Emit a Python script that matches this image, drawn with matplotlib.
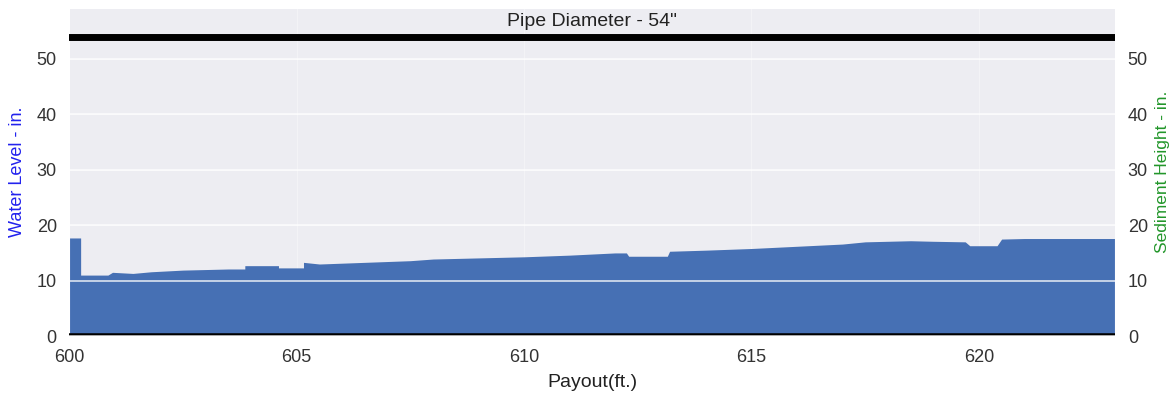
import numpy as np
import matplotlib
matplotlib.use("Agg")
import matplotlib.pyplot as plt
import seaborn as sns

# payout (ft) and water level (in.)
payout = [600.0, 600.25, 600.25, 600.85, 600.95, 601.4, 601.8, 602.5, 603.5,
          603.86, 603.86, 604.6, 604.6, 605.15, 605.15, 605.5, 606.5, 607.5,
          608.0, 609.0, 610.0, 611.0, 612.0, 612.25, 612.3, 613.15, 613.2,
          614.0, 615.0, 616.0, 617.0, 617.5, 618.5, 619.0, 619.7, 619.8,
          620.4, 620.5, 621.0, 623.0]
water = [17.7, 17.7, 11.0, 11.0, 11.5, 11.3, 11.6, 11.9, 12.1,
         12.1, 12.7, 12.7, 12.3, 12.3, 13.3, 13.0, 13.3, 13.6,
         13.9, 14.1, 14.3, 14.6, 15.0, 15.0, 14.4, 14.4, 15.3,
         15.5, 15.8, 16.2, 16.6, 17.0, 17.2, 17.1, 17.0, 16.3,
         16.3, 17.5, 17.6, 17.6]
pipe_diameter = 54
sediment = 0

sns.set_style("darkgrid")
plt.rcParams["font.family"] = ["Liberation Sans", "DejaVu Sans"]

fig = plt.figure(figsize=(11.74, 4.01), dpi=100)
ax = fig.add_axes([0.059, 0.162, 0.891, 0.818])
ax.set_facecolor("#EDEDF2")
ax.grid(True, color="white", lw=0.8, alpha=0.35)

ax.fill_between(payout, 0, water, color="#4670b4", lw=0, zorder=2)
ax.axhline(pipe_diameter, color="black", lw=5, zorder=3)
ax.axhline(sediment, color="black", lw=4, zorder=3)

ax.set_xlim(600, 623)
ax.set_ylim(0, 59.2)
ax.set_yticks(range(0, 51, 10))
ax.set_xticks(range(600, 621, 5))
ax.tick_params(labelsize=13, colors="#333333", length=0, pad=9)
ax.set_xlabel("Payout(ft.)", fontsize=14, color="#222222", labelpad=6)
ax.set_ylabel("Water Level - in.", fontsize=13, color="#2222ee", labelpad=8)
ax.text(611.5, 56.8, 'Pipe Diameter - 54"', ha="center", va="center",
        fontsize=14, color="#222222")

ax2 = ax.twinx()
ax2.set_ylim(0, 59.2)
ax2.set_yticks(range(0, 51, 10))
ax2.grid(True, axis="y", color="white", lw=1.2, alpha=0.8)
ax2.grid(False, axis="x")
ax2.tick_params(labelsize=13, colors="#333333", length=0, pad=9)
ax2.set_ylabel("Sediment Height - in.", fontsize=12.5, color="#22962a", labelpad=5)
for sp in ax2.spines.values():
    sp.set_visible(False)

fig.savefig("out.png", dpi=100)
